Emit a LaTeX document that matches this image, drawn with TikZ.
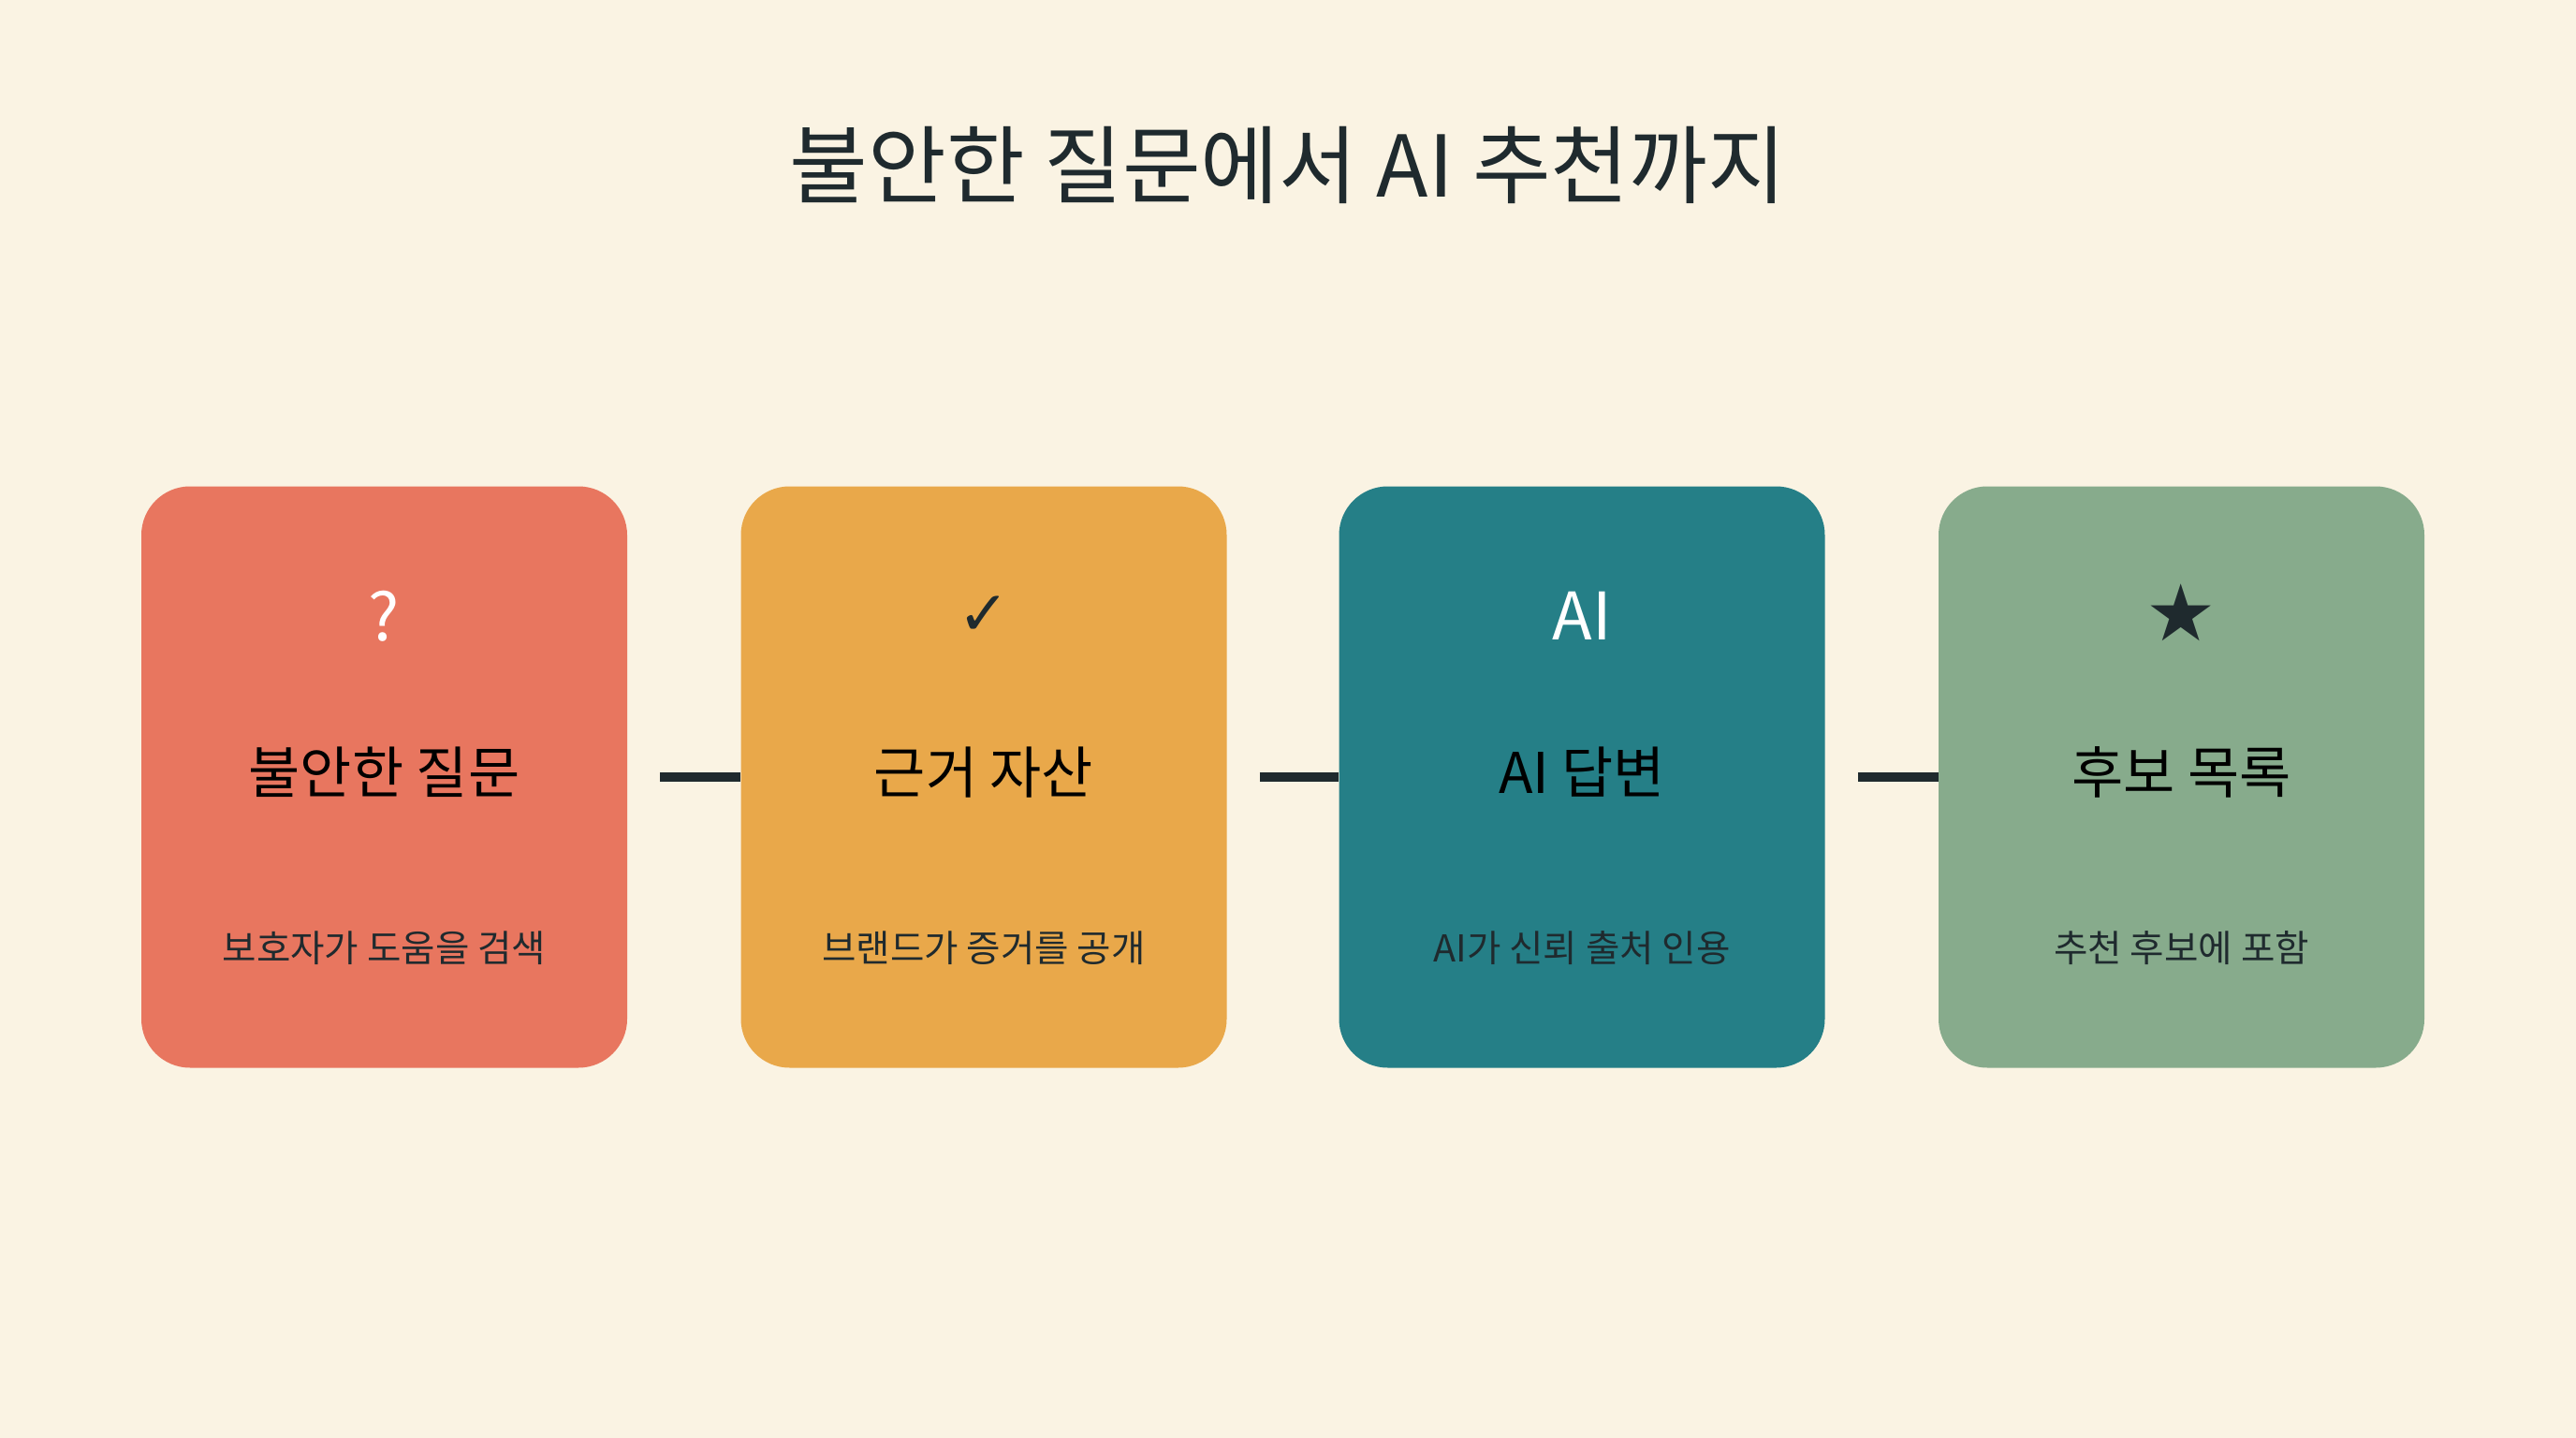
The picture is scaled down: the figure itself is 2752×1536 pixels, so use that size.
\documentclass[tikz,border=0pt]{standalone}
\usepackage{fontspec}
\setmainfont{Noto Sans CJK KR}
\newfontfamily\symfont{DejaVu Sans}
\usetikzlibrary{positioning}
\definecolor{bgcream}{HTML}{FAF3E3}
\definecolor{ink}{HTML}{1F2A2E}
\definecolor{cardred}{HTML}{E8765F}
\definecolor{cardorange}{HTML}{E9A84A}
\definecolor{cardteal}{HTML}{257F87}
\definecolor{cardgreen}{HTML}{87AB8C}

\begin{document}
\begin{tikzpicture}[x=0.5pt, y=-0.5pt,
    card/.style = {rounded corners=26pt, minimum width=259.5pt, minimum height=310.5pt, inner sep=0pt},
    icon/.style = {font=\fontsize{35}{40}\selectfont, inner sep=0pt},
    head/.style = {font=\fontsize{30}{34}\selectfont, text=black, inner sep=0pt},
    sub/.style = {font=\fontsize{19.8}{23}\selectfont, text=ink, inner sep=0pt},
    link/.style = {draw=ink, line width=5pt}]
    \fill[bgcream] (0,0) rectangle (2752,1536);
    \useasboundingbox (0,0) rectangle (2752,1536);
    \node[font=\fontsize{45.5}{52}\selectfont, text=ink] (title) at (1376,176) {불안한 질문에서 AI 추천까지};

    \node[card, fill=cardred] (q) at (410.5,830) {};
    \node[card, fill=cardorange] (e) at (1051,830) {};
    \node[card, fill=cardteal] (a) at (1690,830) {};
    \node[card, fill=cardgreen] (r) at (2330.5,830) {};

    \node[icon, text=white] (qicon) at (410.5,658) {?};
    \node[icon, text=ink] (eicon) at (1051,658) {\symfont\fontsize{33}{38}\selectfont ✓};
    \node[icon, text=white] (aicon) at (1690,658) {AI};
    \node[icon, text=ink] (ricon) at (2330.5,654) {\symfont\fontsize{42}{46}\selectfont ★};

    \node[head] (qhead) at (410.5,825) {불안한 질문};
    \node[head] (ehead) at (1051,825) {근거 자산};
    \node[head] (ahead) at (1690,825) {AI 답변};
    \node[head] (rhead) at (2330.5,825) {후보 목록};

    \node[sub] (qsub) at (410.5,1013) {보호자가 도움을 검색};
    \node[sub] (esub) at (1051,1013) {브랜드가 증거를 공개};
    \node[sub] (asub) at (1690,1013) {AI가 신뢰 출처 인용};
    \node[sub] (rsub) at (2330.5,1013) {추천 후보에 포함};

    \draw[link] ([xshift=17.5pt]q.east) -- (e.west);
    \draw[link] ([xshift=17.5pt]e.east) -- (a.west);
    \draw[link] ([xshift=17.5pt]a.east) -- (r.west);
\end{tikzpicture}
\end{document}
